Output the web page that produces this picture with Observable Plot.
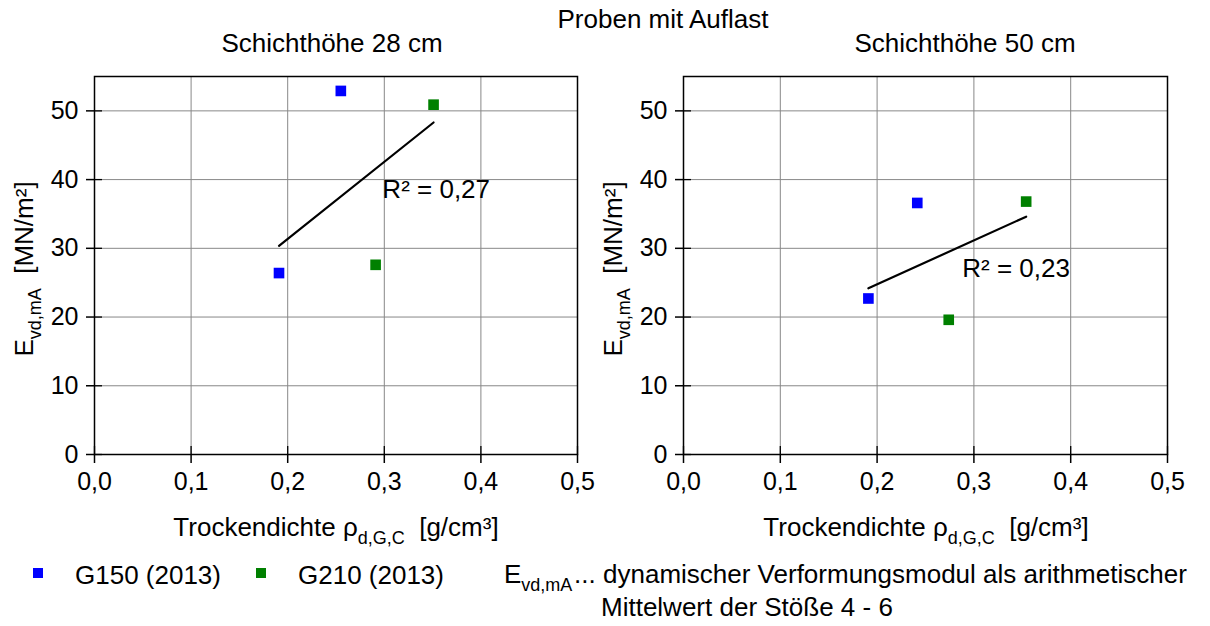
<!DOCTYPE html>
<html>
<head>
<meta charset="utf-8">
<script src="https://cdn.jsdelivr.net/npm/d3@7"></script>
<script src="https://cdn.jsdelivr.net/npm/@observablehq/plot@0.6"></script>
<style>
  body { margin: 0; background: #fff; }
  #wrap { position: relative; width: 1210px; height: 626px; font-family: "Liberation Sans", Arial, sans-serif; color: #000; overflow: hidden; }
  .t { position: absolute; white-space: nowrap; font-size: 26px; line-height: 1; }
  .sub { font-size: 18px; position: relative; top: 8px; }
  .sq { position: absolute; width: 10px; height: 10px; }
</style>
</head>
<body>
<div id="wrap"></div>
<script>
// ---- data ----
const series = ["G150 (2013)", "G210 (2013)"];
const seriesColors = ["#0000ff", "#008000"];
const xTicks = [0, 0.1, 0.2, 0.3, 0.4, 0.5];
const yTicks = [0, 10, 20, 30, 40, 50];

// Schichthöhe 28 cm
const h28_G150_x = [0.191, 0.255];
const h28_G150_y = [26.4, 52.9];
const h28_G210_x = [0.291, 0.351];
const h28_G210_y = [27.6, 50.9];
const h28_r2 = "R² = 0,27";
const h28_r2_pos = [0.298, 38.6];

// Schichthöhe 50 cm
const h50_G150_x = [0.191, 0.2415];
const h50_G150_y = [22.7, 36.6];
const h50_G210_x = [0.274, 0.354];
const h50_G210_y = [19.6, 36.8];
const h50_r2 = "R² = 0,23";
const h50_r2_pos = [0.288, 27.0];

function rows(xs1, ys1, xs2, ys2) {
  return [
    ...xs1.map((x, i) => ({x, y: ys1[i], s: series[0]})),
    ...xs2.map((x, i) => ({x, y: ys2[i], s: series[1]}))
  ];
}
const fmt = d => d3.format(".1f")(d).replace(".", ",");
const font = "'Liberation Sans', Arial, sans-serif";

function panel(data, r2, r2pos, opts) {
  return Plot.plot({
    width: opts.width, height: 500,
    marginLeft: opts.ml, marginRight: opts.mr, marginTop: 76, marginBottom: 46,
    x: {domain: [0, 0.5], ticks: xTicks},
    y: {domain: [0, 55], ticks: yTicks},
    color: {domain: series, range: seriesColors},
    style: {fontFamily: font, fontSize: "25px", color: "#000", background: "transparent", overflow: "visible"},
    marks: [
      Plot.gridX(xTicks, {stroke: "#888", strokeOpacity: 1, strokeWidth: 1}),
      Plot.gridY(yTicks, {stroke: "#888", strokeOpacity: 1, strokeWidth: 1}),
      Plot.axisX(xTicks, {tickFormat: fmt, tickSize: 9, tickPadding: 9, label: null, fontSize: 25, strokeWidth: 1.5}),
      Plot.axisY(yTicks, {tickSize: 8, tickPadding: 8, label: null, fontSize: 25, strokeWidth: 1.5}),
      Plot.axisX(xTicks, {tickFormat: () => "", tickSize: -8, label: null, strokeWidth: 1.3}),
      Plot.axisY(yTicks, {tickFormat: () => "", tickSize: -8, label: null, strokeWidth: 1.3}),
      Plot.linearRegressionY(data, {x: "x", y: "y", stroke: "black", strokeWidth: 2.2, ci: 0}),
      Plot.dot(data, {x: "x", y: "y", fill: "s", symbol: "square", r: 6}),
      Plot.text([r2], {x: r2pos[0], y: r2pos[1], text: d => d, textAnchor: "start", fontSize: 26, fill: "black"}),
      Plot.frame({stroke: "black", strokeWidth: 1.5})
    ]
  });
}

const wrap = document.getElementById("wrap");
function place(node, left, top) {
  node.style.position = "absolute";
  node.style.left = left + "px";
  node.style.top = top + "px";
  wrap.appendChild(node);
}
place(panel(rows(h28_G150_x, h28_G150_y, h28_G210_x, h28_G210_y), h28_r2, h28_r2_pos, {width: 600, ml: 94, mr: 23}), 0, 0);
place(panel(rows(h50_G150_x, h50_G150_y, h50_G210_x, h50_G210_y), h50_r2, h50_r2_pos, {width: 610, ml: 83, mr: 43}), 600, 0);

function text(html, cx, cy, anchor) {
  const d = document.createElement("div");
  d.className = "t";
  d.innerHTML = html;
  d.style.left = cx + "px";
  d.style.top = cy + "px";
  const tx = anchor === "start" ? "0" : "-50%";
  d.style.transform = `translate(${tx}, -50%)`;
  wrap.appendChild(d);
  return d;
}

text("Proben mit Auflast", 663, 19, "middle");
text("Schichthöhe 28 cm", 332, 43, "middle");
text("Schichthöhe 50 cm", 965, 43, "middle");

const yLab = 'E<span class="sub">vd,mA</span>&nbsp; [MN/m²]';
[[24, 269], [613, 269]].forEach(([cx, cy]) => {
  const d = text(yLab, cx, cy, "middle");
  d.style.transformOrigin = "0 0";
  d.style.transform = "rotate(-90deg) translate(-50%, -50%)";
});

const xLab = 'Trockendichte ρ<span class="sub">d,G,C</span>&nbsp; [g/cm³]';
text(xLab, 336, 527, "middle");
text(xLab, 926, 527, "middle");

// legend
series.forEach((s, i) => {
  const sq = document.createElement("div");
  sq.className = "sq";
  sq.style.background = seriesColors[i];
  sq.style.left = [33, 256][i] + "px";
  sq.style.top = "568px";
  wrap.appendChild(sq);
  text(s, [75, 298][i], 575, "start");
});
text('E<span class="sub">vd,mA</span>', 504, 574, "start");
text('...', 574, 574, "start");
text('dynamischer Verformungsmodul als arithmetischer', 603, 574, "start");
text('Mittelwert der Stöße 4 - 6', 601, 607, "start");
</script>
</body>
</html>
